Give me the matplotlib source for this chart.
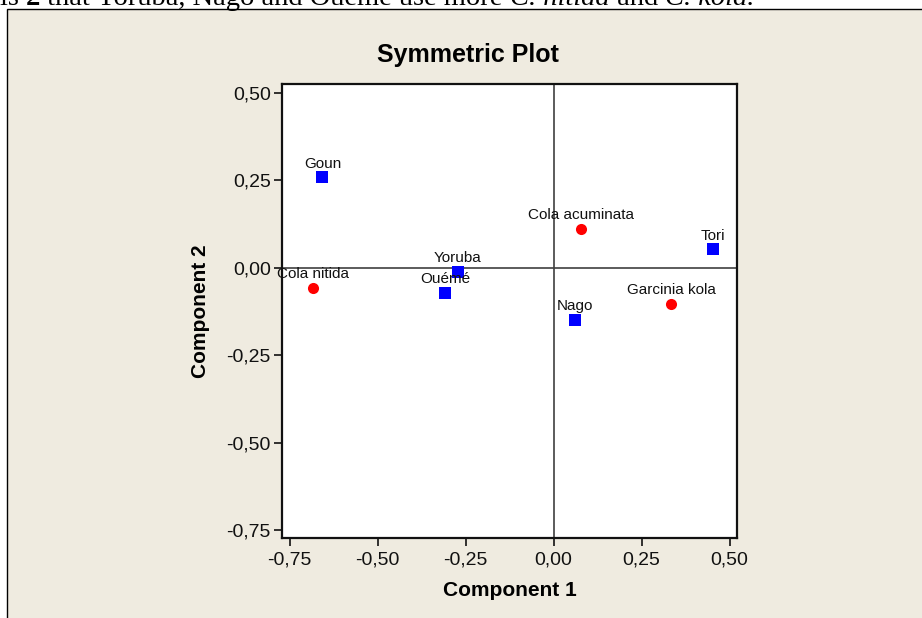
import numpy as np
import matplotlib
matplotlib.use('Agg')
from matplotlib import pyplot as plt
from matplotlib.patches import Rectangle
from matplotlib.ticker import FuncFormatter

plt.rcParams['font.family'] = ['Liberation Sans', 'DejaVu Sans']

PANEL_COLOR = '#EFEBE0'
GROUP_COLOR = '#0000FF'
SPECIES_COLOR = '#FF0000'
REFLINE_COLOR = '#404040'

# row points (blue squares)
groups = ['Goun', 'Tori', 'Yoruba', 'Ouémé', 'Nago']
group_x = [-0.657, 0.453, -0.273, -0.309, 0.061]
group_y = [0.258, 0.052, -0.012, -0.072, -0.150]

# column points (red circles)
species = ['Cola acuminata', 'Cola nitida', 'Garcinia kola']
species_x = [0.078, -0.685, 0.334]
species_y = [0.111, -0.058, -0.104]

ticks = [-0.75, -0.50, -0.25, 0.00, 0.25, 0.50]

# text above the figure (cut off at the top of the page)
caption_parts = [('is ', 'normal', 'normal'),
                 ('2', 'bold', 'normal'),
                 (' that Yoruba, Nago and Ouémé use more ', 'normal', 'normal'),
                 ('C. nitida', 'normal', 'italic'),
                 (' and ', 'normal', 'normal'),
                 ('C. kola.', 'normal', 'italic')]


def comma_fmt(v, pos=None):
    return '{:.2f}'.format(v).replace('.', ',')


fig = plt.figure(figsize=(9.22, 6.18), dpi=100)
fig.patch.set_facecolor('white')

W, H = 922.0, 618.0
fig.patches.append(Rectangle((7 / W, -0.05), 1.1, 1 - 9 / H + 0.05, transform=fig.transFigure,
                             facecolor=PANEL_COLOR, edgecolor='black', linewidth=1.0, zorder=-1))

ax = fig.add_axes([282 / W, 1 - 538 / H, (737 - 282) / W, (538 - 84) / H])
ax.set_zorder(2)
ax.set_facecolor('white')
ax.set_xlim(-0.772, 0.521)
ax.set_ylim(-0.773, 0.525)

ax.axhline(0, color=REFLINE_COLOR, linewidth=1.2, zorder=1)
ax.axvline(0, color=REFLINE_COLOR, linewidth=1.2, zorder=1)

ax.plot(group_x, group_y, 's', color=GROUP_COLOR, markersize=8.5, markeredgewidth=0, zorder=3)
ax.plot(species_x, species_y, 'o', color=SPECIES_COLOR, markersize=8, markeredgewidth=0, zorder=3)

for name, x, y in zip(groups + species, group_x + species_x, group_y + species_y):
    ax.annotate(name, (x, y), xytext=(0, 7), textcoords='offset points',
                ha='center', va='baseline', fontsize=11, color='#111111', zorder=4)

ax.set_xticks(ticks)
ax.set_yticks(ticks)
ax.xaxis.set_major_formatter(FuncFormatter(comma_fmt))
ax.yaxis.set_major_formatter(FuncFormatter(comma_fmt))
ax.tick_params(direction='out', length=6, width=1.2, labelsize=14, colors='#111111',
               top=False, right=False)
ax.tick_params(axis='x', pad=3.5)
ax.tick_params(axis='y', pad=2)

for s in ax.spines.values():
    s.set_linewidth(1.6)
    s.set_color('#111111')

ax.set_xlabel('Component 1', fontsize=15, fontweight='bold', labelpad=9)
ax.set_ylabel('Component 2', fontsize=15, fontweight='bold', labelpad=12)

fig.text(468 / W, 1 - 62 / H, 'Symmetric Plot', ha='center', va='baseline',
         fontsize=18, fontweight='bold')

# caption pieces laid side by side
renderer = fig.canvas.get_renderer()
x0 = 0.0
for txt, weight, style in caption_parts:
    t = fig.text(x0, 1 - 5 / H, txt, ha='left', va='baseline', fontsize=20.5,
                 family='Liberation Serif', fontweight=weight, fontstyle=style)
    bb = t.get_window_extent(renderer=renderer)
    x0 = bb.x1 / fig.bbox.width

fig.savefig('out.png', dpi=100)
